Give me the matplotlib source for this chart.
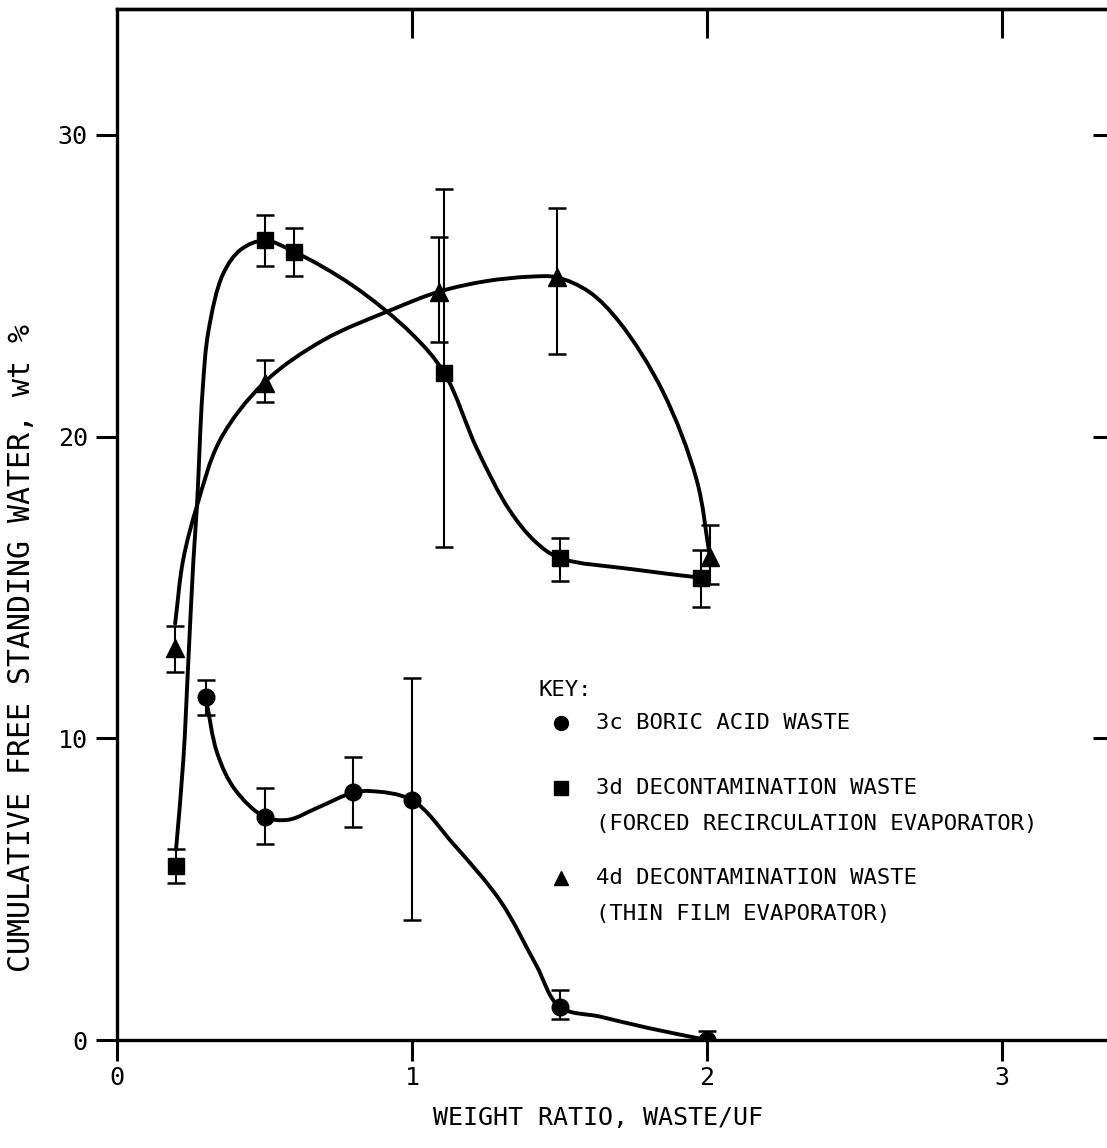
import numpy as np
import matplotlib
matplotlib.use("Agg")
import matplotlib.pyplot as plt
from matplotlib.path import Path
from matplotlib.patches import PathPatch

plt.rcParams["font.family"] = ["DejaVu Sans Mono", "DejaVu Sans"]

# ---- measured points (weight ratio vs. cumulative free standing water, wt %) ----
boric_x = [0.30, 0.50, 0.80, 1.00, 1.50, 2.00]
boric_y = [11.37, 7.40, 8.21, 7.95, 1.10, 0.00]
boric_hi = [11.93, 8.36, 9.37, 12.01, 1.66, 0.30]
boric_lo = [10.77, 6.49, 7.07, 3.98, 0.70, -0.30]

frc_x = [0.20, 0.50, 0.60, 1.11, 1.50, 1.98]
frc_y = [5.77, 26.50, 26.13, 22.10, 15.98, 15.32]
frc_hi = [6.33, 27.35, 26.90, 28.20, 16.64, 16.24]
frc_lo = [5.20, 25.66, 25.32, 16.35, 15.21, 14.36]

tfe_x = [0.195, 0.50, 1.09, 1.49, 2.01]
tfe_y = [12.99, 21.79, 24.80, 25.28, 16.00]
tfe_hi = [13.72, 22.54, 26.63, 27.57, 17.07]
tfe_lo = [12.20, 21.16, 23.12, 22.74, 15.11]

# ---- hand-drawn trend curves through the data ----
boric_curve_x = [0.30, 0.34, 0.40, 0.50, 0.58, 0.68, 0.80, 0.86, 1.00, 1.14, 1.30, 1.42, 1.50, 1.64, 1.80, 2.00]
boric_curve_y = [11.4, 9.5, 8.3, 7.4, 7.3, 7.7, 8.2, 8.25, 7.95, 6.5, 4.6, 2.5, 1.1, 0.77, 0.4, 0.0]

frc_curve_x = [0.20, 0.225, 0.242, 0.259, 0.271, 0.29, 0.31, 0.36, 0.42, 0.50, 0.60, 0.80, 1.00, 1.11, 1.22, 1.33, 1.42, 1.50, 1.75, 1.98]
frc_curve_y = [6.3, 9.3, 12.6, 15.9, 17.7, 21.5, 23.5, 25.4, 26.2, 26.5, 26.13, 25.0, 23.4, 22.1, 19.6, 17.57, 16.5, 15.98, 15.6, 15.32]

tfe_curve_x = [0.197, 0.224, 0.271, 0.35, 0.50, 0.70, 0.93, 1.09, 1.25, 1.40, 1.49, 1.60, 1.705, 1.85, 1.965, 2.01]
tfe_curve_y = [13.8, 15.9, 17.7, 19.9, 21.8, 23.2, 24.2, 24.8, 25.15, 25.3, 25.28, 24.8, 23.77, 21.5, 18.56, 16.0]

x_ticks = [0, 1, 2, 3]
y_ticks = [0, 10, 20, 30]
x_label = "WEIGHT RATIO, WASTE/UF"
y_label = "CUMULATIVE FREE STANDING WATER, wt %"
key_title = "KEY:"
key_entries = [
    ("o", "3c BORIC ACID WASTE", None),
    ("s", "3d DECONTAMINATION WASTE", "(FORCED RECIRCULATION EVAPORATOR)"),
    ("^", "4d DECONTAMINATION WASTE", "(THIN FILM EVAPORATOR)"),
]

W, H = 1107, 1148
fig = plt.figure(figsize=(W / 100, H / 100), dpi=100)
ax = fig.add_axes([117 / W, 108 / H, 990 / W, 1031 / H])
XMAX, YMAX = 990 / 295.0, 1031 / 30.17
ax.set_xlim(0, XMAX)
ax.set_ylim(0, YMAX)


def smooth_curve_path(xs, ys, alpha=0.5):
    """Centripetal Catmull-Rom curve through the points, as cubic Bezier segments.

    Knot spacing is computed on the axes' on-screen proportions so the
    parametrisation is not distorted by the very different x and y ranges.
    """
    sx = 990.0 / XMAX
    sy = 1031.0 / YMAX
    p = np.column_stack([np.asarray(xs, float) * sx, np.asarray(ys, float) * sy])
    ext = np.vstack([2 * p[0] - p[1], p, 2 * p[-1] - p[-2]])
    verts = [tuple(p[0])]
    codes = [Path.MOVETO]
    for i in range(1, len(ext) - 2):
        p0, p1, p2, p3 = ext[i - 1], ext[i], ext[i + 1], ext[i + 2]
        d0 = max(np.linalg.norm(p1 - p0) ** alpha, 1e-6)
        d1 = max(np.linalg.norm(p2 - p1) ** alpha, 1e-6)
        d2 = max(np.linalg.norm(p3 - p2) ** alpha, 1e-6)
        t1 = (p1 - p0) / d0 - (p2 - p0) / (d0 + d1) + (p2 - p1) / d1
        t2 = (p2 - p1) / d1 - (p3 - p1) / (d1 + d2) + (p3 - p2) / d2
        c1 = p1 + t1 * d1 / 3.0
        c2 = p2 - t2 * d1 / 3.0
        verts += [tuple(c1), tuple(c2), tuple(p2)]
        codes += [Path.CURVE4] * 3
    v = np.array(verts)
    v[:, 0] /= sx
    v[:, 1] /= sy
    return Path(v, codes)


for cx, cy in [(boric_curve_x, boric_curve_y), (frc_curve_x, frc_curve_y), (tfe_curve_x, tfe_curve_y)]:
    ax.add_patch(PathPatch(smooth_curve_path(cx, cy), fill=False, edgecolor="black",
                           lw=2.8, capstyle="round", joinstyle="round", zorder=3))

for xs, ys, hi, lo, mk, ms in [
    (boric_x, boric_y, boric_hi, boric_lo, "o", 12),
    (frc_x, frc_y, frc_hi, frc_lo, "s", 12),
    (tfe_x, tfe_y, tfe_hi, tfe_lo, "^", 12.5),
]:
    ys_a = np.array(ys)
    yerr = [ys_a - np.array(lo), np.array(hi) - ys_a]
    ax.errorbar(xs, ys, yerr=yerr, fmt="none", ecolor="black", elinewidth=1.5,
                capsize=6.5, capthick=1.8, zorder=2)
    ax.plot(xs, ys, mk, color="black", ms=ms, zorder=4)

# frame
for side in ["left", "bottom", "top"]:
    ax.spines[side].set_linewidth(2.4)
ax.spines["right"].set_visible(False)

ax.set_xticks(x_ticks)
ax.set_yticks(y_ticks)
ax.set_xticklabels([str(v) for v in x_ticks])
ax.set_yticklabels([str(v) for v in y_ticks])
ax.tick_params(axis="both", direction="out", length=15, width=2.2, labelsize=18, top=False, right=False)
ax.tick_params(axis="x", pad=4)
ax.tick_params(axis="y", pad=6)

secx = ax.secondary_xaxis("top")
secx.set_xticks([1, 2, 3])
secx.tick_params(direction="in", length=21, width=2.2, labeltop=False)
secx.spines["top"].set_linewidth(2.4)

secy = ax.secondary_yaxis("right")
secy.set_yticks([10, 20, 30])
secy.tick_params(direction="in", length=10, width=2.2, labelright=False)
secy.spines["right"].set_visible(False)

ax.text(0.486, -0.0757, x_label, transform=ax.transAxes, fontsize=18, ha="center", va="center")
ax.text(-0.096, 0.380, y_label, transform=ax.transAxes, fontsize=21.5, ha="center", va="center",
        rotation=90)

# key
ax.text(0.4253, 0.3395, key_title, transform=ax.transAxes, fontsize=16, va="center", ha="left")
key_rows = [(0.3075, None), (0.2444, 0.2095), (0.1571, 0.1222)]
for (mk, line1, line2), (y1, y2) in zip(key_entries, key_rows):
    ax.plot([0.448], [y1], mk, color="black", ms=10, transform=ax.transAxes, clip_on=False)
    ax.text(0.4838, y1, line1, transform=ax.transAxes, fontsize=16, va="center", ha="left")
    if line2:
        ax.text(0.4838, y2, line2, transform=ax.transAxes, fontsize=16, va="center", ha="left")

fig.savefig("out.png", dpi=100)
